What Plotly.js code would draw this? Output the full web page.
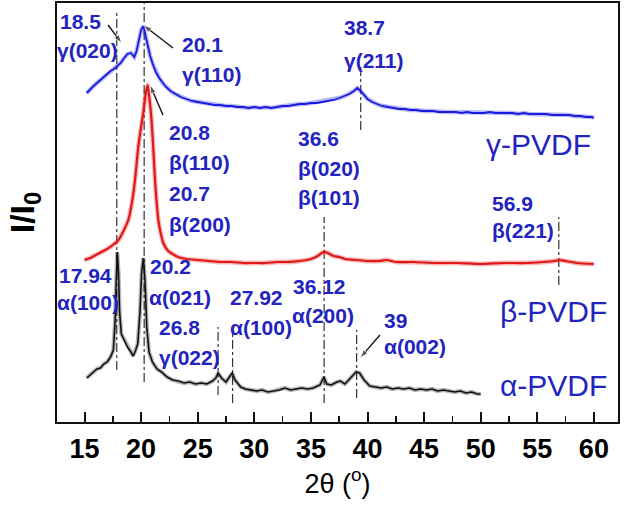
<!DOCTYPE html>
<html>
<head>
<meta charset="utf-8">
<script src="https://cdn.plot.ly/plotly-3.0.1.min.js"></script>
<style>html,body{margin:0;padding:0;background:#fff;}#chart{width:625px;height:505px;}</style>
</head>
<body>
<div id="chart"></div>
<script>
// gamma-PVDF (offset intensity, arbitrary units)
const gammaTheta = [15.2,15.5,15.8,16.1,16.4,16.7,17.0,17.3,17.6,17.9,
  18.2,18.5,18.8,19.1,19.4,19.6,19.8,20.0,20.2,20.4,
  20.6,20.8,21.0,21.3,21.6,21.9,22.2,22.6,23.0,23.5,
  24.0,24.5,25.0,25.5,26.0,26.5,27.0,27.5,28.0,28.5,
  29.0,29.5,30.0,30.5,31.0,31.5,32.0,32.5,33.0,33.5,
  34.0,34.5,35.0,35.5,36.0,36.5,37.0,37.5,38.0,38.4,
  38.8,39.1,39.4,39.7,40.0,40.4,40.8,41.3,41.8,42.3,
  42.8,43.3,43.8,44.3,44.8,45.3,45.8,46.3,46.8,47.3,
  47.8,48.3,48.8,49.3,49.8,50.3,50.8,51.3,51.8,52.3,
  52.8,53.3,53.8,54.3,54.8,55.3,55.8,56.3,56.8,57.3,
  57.8,58.3,58.8,59.3,59.8,60.0];
const gammaI = [329,333,336,339,342,345,348,351,353,356,
  359,364,368,369,365,371,382,392,396,386,
  374,366,359,350,344,339,335,331,328,325,
  323,321,320,319,318,317,317,316,316,315,
  315,314,315,314,315,314,315,316,316,317,
  318,318,319,319,320,321,322,324,326,328,
  331,334,331,327,323,320,318,316,315,314,
  313,313,312,312,311,311,311,310,310,310,
  310,309,310,309,309,309,310,309,309,309,
  309,308,309,308,308,308,308,307,307,307,
  307,306,306,305,305,304];

// beta-PVDF
const betaTheta = [15.0,15.5,16.0,16.5,17.0,17.5,18.0,18.4,18.87,19.2,
  19.46,19.75,20.0,20.19,20.4,20.58,20.72,20.87,21.07,21.23,
  21.52,21.75,21.96,22.4,23.26,24.0,25.0,26.0,27.0,28.0,
  29.0,30.0,31.0,32.0,33.0,34.0,35.0,35.6,36.1,36.5,
  37.0,37.5,38.0,39.0,40.0,41.0,41.7,42.5,44.0,46.0,
  48.0,50.0,52.0,54.0,55.5,56.5,57.0,57.5,58.5,60.0];
const betaI = [162,164,167,170,173,177,182,190,202,220,
  242,275,295,309,328,337,325,309,275,242,
  202,188,179,171,165,163,162,161,160,160,
  159,159,159,160,160,161,163,166,170,169,
  166,165,163,162,161,161,162,160,160,159,
  159,158,159,159,160,161,162,161,159,158];

// alpha-PVDF
const alphaTheta = [15.2,15.5,15.8,16.1,16.4,16.7,17.0,17.3,17.55,17.7,
  17.8,17.9,18.0,18.1,18.25,18.5,18.8,19.1,19.3,19.5,
  19.7,19.9,20.05,20.2,20.35,20.5,20.7,21.0,21.4,21.8,
  22.3,22.8,23.3,23.8,24.3,24.8,25.3,25.8,26.3,26.6,
  26.8,27.1,27.5,27.8,28.05,28.3,28.8,29.2,29.7,30.2,
  30.7,31.2,31.7,32.2,32.7,33.2,33.7,34.2,34.7,35.2,
  35.8,36.15,36.4,36.8,37.3,37.6,38.0,38.5,39.0,39.3,
  39.7,40.2,40.7,41.2,41.7,42.2,42.7,43.2,43.7,44.2,
  44.7,45.2,45.7,46.2,46.7,47.2,47.7,48.2,48.7,49.2,
  49.7,50.0];
const alphaI = [44,47,49,53,54,58,60,65,72,100,
  140,170,150,110,88,82,75,70,66,71,
  78,110,150,164,140,95,70,60,53,50,
  45,42,41,39,40,38,39,38,41,44,
  49,44,40,45,49,42,35,33,32,31,
  32,30,31,32,34,32,33,34,33,34,
  37,45,38,37,40,41,38,44,50,49,
  42,36,35,34,35,33,34,33,34,32,
  33,32,33,31,32,31,30,31,29,30,
  28,28];

// peak marker lines (2θ, top and bottom in intensity units)
const dropTheta = [17.85, 20.27, 26.8, 28.08, 36.17, 39.04, 39.4, 56.9];
const dropTop    = [409, 419, 95, 92, 205, 92, 357, 205];
const dropBottom = [52, 40, 27, 19, 19, 24, 292, 137];

// pointer arrows: tail -> head (2θ, intensity)
const arrowTailX = [17.08, 22.82, 21.93, 41.1];
const arrowTailY = [397, 374, 307, 87];
const arrowHeadX = [18.29, 20.19, 20.79, 39.34];
const arrowHeadY = [379, 397, 337, 64];

// tick labels
const xTicks = [15,20,25,30,35,40,45,50,55,60];

const traces = [];
dropTheta.forEach((t, i) => {
  traces.push({x:[t,t], y:[dropBottom[i], dropTop[i]], mode:'lines', type:'scatter',
    line:{color:'#333', width:1.2, dash:'dashdot'}, hoverinfo:'skip', showlegend:false});
});
// soft halo to mimic noisy trace thickness, then the main line
function curve(x, y, color, w, spline){
  const ln = {color:color, width:w};
  if (spline) { ln.shape = 'spline'; ln.smoothing = 0.6; }
  const halo = Object.assign({}, ln, {width:w + 2.6});
  traces.push({x:x, y:y, mode:'lines', type:'scatter', line:halo, opacity:0.3,
    hoverinfo:'skip', showlegend:false});
  traces.push({x:x, y:y, mode:'lines', type:'scatter', line:ln, showlegend:false});
}
curve(alphaTheta, alphaI, '#111', 1.6, false);
curve(betaTheta, betaI, '#e01818', 2.2, true);
curve(gammaTheta, gammaI, '#1a1ae0', 1.8, false);

arrowTailX.forEach((t, i) => {
  traces.push({x:[t, arrowHeadX[i]], y:[arrowTailY[i], arrowHeadY[i]], mode:'lines+markers',
    type:'scatter', line:{color:'#111', width:1.4},
    marker:{symbol:'arrow', angleref:'previous', size:[0, 9], color:'#111'},
    hoverinfo:'skip', showlegend:false});
});

const blue = '#2323c0';
const FAM = 'Liberation Sans, Arial, sans-serif';
const lblFont = {family:FAM, size:21, color:blue, weight:'bold'};
const bigFont = {family:FAM, size:30, color:blue};
function lbl(text, x, y, font, xs){
  return {text:text, x:x, y:y, xref:'x', yref:'y', xanchor:'left', yanchor:'middle',
    xshift:xs || 0, showarrow:false, font:font || lblFont};
}
const annotations = [
  lbl('18.5', 12.66, 401), lbl('γ(020)', 12.58, 372, null, -2),
  lbl('20.1', 23.44, 378), lbl('γ(110)', 23.44, 348),
  lbl('20.8', 22.29, 290), lbl('β(110)', 22.29, 260),
  lbl('20.7', 22.29, 229), lbl('β(200)', 22.29, 198),
  lbl('38.7', 37.75, 395), lbl('γ(211)', 37.75, 362),
  lbl('36.6', 33.68, 284), lbl('β(020)', 33.68, 254), lbl('β(101)', 33.68, 225),
  lbl('56.9', 50.82, 219), lbl('β(221)', 50.82, 192),
  lbl('17.94', 12.6, 147), lbl('α(100)', 12.58, 120, null, -2),
  lbl('20.2', 20.61, 156), lbl('α(021)', 20.52, 125),
  lbl('26.8', 21.4, 95), lbl('γ(022)', 21.4, 65),
  lbl('27.92', 27.68, 125), lbl('α(100)', 27.68, 95),
  lbl('36.12', 33.24, 136), lbl('α(200)', 33.15, 107),
  lbl('39', 41.28, 102), lbl('α(002)', 41.28, 76),
  lbl('γ-PVDF', 50.3, 278, bigFont),
  lbl('β-PVDF', 51.53, 111, bigFont),
  lbl('α-PVDF', 51.53, 37, bigFont)
];

const layout = {
  width:625, height:505,
  margin:{l:57, r:7, t:3, b:83},
  paper_bgcolor:'#fff', plot_bgcolor:'#fff',
  showlegend:false,
  xaxis:{
    range:[12.57, 62.13], tickvals:xTicks, ticktext:xTicks.map(String),
    ticks:'inside', ticklen:10, tickwidth:2, tickcolor:'#111',
    minor:{dtick:2.5, tick0:0, ticks:'inside', ticklen:6, tickwidth:1.5, tickcolor:'#111'},
    showline:true, linewidth:2, linecolor:'#111', mirror:true,
    showgrid:false, zeroline:false, ticklabelstandoff:2,
    tickfont:{family:FAM, size:27, color:'#000', weight:'bold'},
    title:{text:'2θ (<sup>o</sup>)', standoff:4,
      font:{family:FAM, size:27, color:'#000'}}
  },
  yaxis:{
    range:[0, 419], showticklabels:false, ticks:'',
    showline:true, linewidth:2, linecolor:'#111', mirror:true,
    showgrid:false, zeroline:false,
    title:{text:'I/I<sub>0</sub>', standoff:10,
      font:{family:FAM, size:34, color:'#000', weight:'bold'}}
  },
  annotations:annotations
};

Plotly.newPlot('chart', traces, layout, {displayModeBar:false, staticPlot:true});
</script>
</body>
</html>
